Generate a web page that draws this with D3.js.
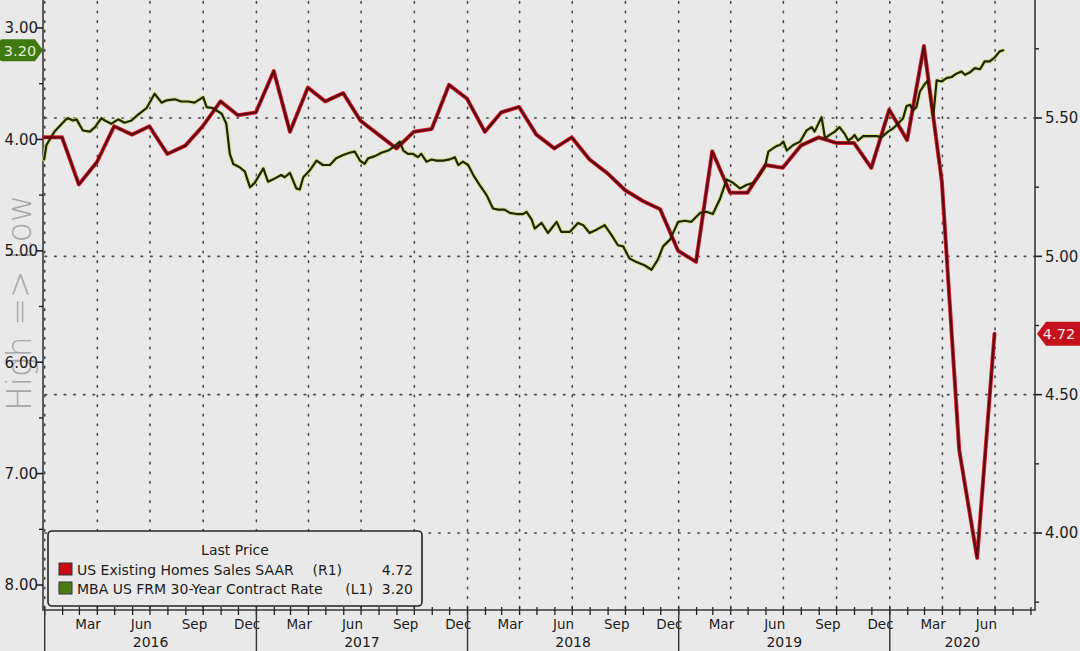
<!DOCTYPE html>
<html><head><meta charset="utf-8">
<script src="https://cdn.jsdelivr.net/npm/d3@7"></script>
<style>html,body{margin:0;padding:0;background:#e9e9e9;} svg{display:block;}</style>
</head><body><svg id="c" width="1080" height="651"></svg>
<script>
// ---------- DATA ----------
const homeSalesDates = [
"2015-12-31","2016-01-31","2016-02-29","2016-03-31","2016-04-30","2016-05-31","2016-06-30","2016-07-31","2016-08-31","2016-09-30","2016-10-31","2016-11-30","2016-12-31",
"2017-01-31","2017-02-28","2017-03-31","2017-04-30","2017-05-31","2017-06-30","2017-07-31","2017-08-31","2017-09-30","2017-10-31","2017-11-30","2017-12-31",
"2018-01-31","2018-02-28","2018-03-31","2018-04-30","2018-05-31","2018-06-30","2018-07-31","2018-08-31","2018-09-30","2018-10-31","2018-11-30","2018-12-31",
"2019-01-31","2019-02-28","2019-03-31","2019-04-30","2019-05-31","2019-06-30","2019-07-31","2019-08-31","2019-09-30","2019-10-31","2019-11-30","2019-12-31",
"2020-01-31","2020-02-29","2020-03-31","2020-04-30","2020-05-31","2020-06-30"];
const homeSalesValues = [
5.43,5.43,5.26,5.34,5.47,5.44,5.47,5.37,5.40,5.47,5.56,5.51,5.52,
5.67,5.45,5.61,5.56,5.59,5.49,5.44,5.39,5.45,5.46,5.62,5.57,
5.45,5.52,5.54,5.44,5.39,5.43,5.35,5.30,5.24,5.20,5.17,5.02,
4.98,5.38,5.23,5.23,5.33,5.32,5.40,5.43,5.41,5.41,5.32,5.53,
5.42,5.76,5.27,4.30,3.91,4.72];

const mortgageDates = [
"2015-12-31","2016-01-04","2016-01-18","2016-02-05","2016-02-10","2016-02-19","2016-02-25","2016-03-07","2016-03-19","2016-03-28",
"2016-04-08","2016-04-14","2016-04-25","2016-05-07","2016-05-18","2016-05-30","2016-06-10","2016-06-25","2016-07-09","2016-07-21",
"2016-07-29","2016-08-13","2016-08-24","2016-09-05","2016-09-16","2016-10-01","2016-10-07","2016-10-18","2016-11-02","2016-11-10",
"2016-11-16","2016-11-22","2016-12-03","2016-12-12","2016-12-21","2016-12-29","2017-01-13","2017-01-21","2017-02-02","2017-02-13",
"2017-02-19","2017-02-28","2017-03-11","2017-03-17","2017-03-23","2017-04-03","2017-04-15","2017-04-26","2017-05-08","2017-05-19",
"2017-05-31","2017-06-11","2017-06-20","2017-06-29","2017-07-07","2017-07-13","2017-07-25","2017-08-05","2017-08-17","2017-08-28",
"2017-09-06","2017-09-12","2017-09-20","2017-09-29","2017-10-07","2017-10-13","2017-10-22","2017-10-31","2017-11-08","2017-11-20",
"2017-12-01","2017-12-10","2017-12-16","2017-12-24","2018-01-02","2018-01-11","2018-01-22","2018-02-03","2018-02-14","2018-02-23",
"2018-03-06","2018-03-15","2018-03-27","2018-04-07","2018-04-13","2018-04-22","2018-04-27","2018-05-09","2018-05-20","2018-06-04",
"2018-06-12","2018-06-27","2018-07-11","2018-07-20","2018-07-31","2018-08-12","2018-08-26","2018-09-07","2018-09-18","2018-09-27",
"2018-10-08","2018-10-20","2018-11-03","2018-11-15","2018-11-26","2018-12-05","2018-12-17","2018-12-31","2019-01-12","2019-01-23",
"2019-02-07","2019-02-18","2019-03-01","2019-03-13","2019-03-25","2019-04-05","2019-04-17","2019-04-28","2019-05-10","2019-05-21",
"2019-05-30","2019-06-05","2019-06-13","2019-06-19","2019-06-25","2019-07-01","2019-07-07","2019-07-18","2019-07-30","2019-08-10",
"2019-08-19","2019-08-24","2019-09-05","2019-09-11","2019-09-19","2019-09-28","2019-10-06","2019-10-15","2019-10-21","2019-10-27",
"2019-11-01","2019-11-07","2019-11-16","2019-11-27","2019-12-09","2019-12-18","2019-12-29","2020-01-07","2020-01-15","2020-01-24",
"2020-01-30","2020-02-05","2020-02-10","2020-02-16","2020-02-22","2020-03-02","2020-03-07","2020-03-16","2020-03-22","2020-03-31",
"2020-04-08","2020-04-17","2020-04-25","2020-05-04","2020-05-10","2020-05-18","2020-05-27","2020-06-05","2020-06-13","2020-06-22",
"2020-07-01","2020-07-09","2020-07-15"];
const mortgageValues = [
4.18,4.05,3.93,3.83,3.81,3.83,3.82,3.92,3.93,3.89,
3.81,3.83,3.86,3.82,3.85,3.83,3.78,3.72,3.59,3.67,
3.65,3.64,3.66,3.66,3.67,3.62,3.71,3.72,3.77,3.86,
4.13,4.22,4.25,4.29,4.43,4.39,4.26,4.38,4.35,4.32,
4.34,4.30,4.44,4.45,4.34,4.28,4.19,4.23,4.23,4.17,
4.14,4.12,4.11,4.19,4.22,4.17,4.15,4.12,4.10,4.06,
4.02,4.10,4.13,4.13,4.16,4.13,4.20,4.18,4.19,4.19,
4.18,4.16,4.23,4.20,4.23,4.32,4.41,4.50,4.62,4.63,
4.63,4.66,4.67,4.67,4.65,4.72,4.80,4.75,4.84,4.74,
4.83,4.83,4.75,4.77,4.84,4.81,4.77,4.86,4.95,4.96,
5.07,5.10,5.13,5.17,5.08,4.96,4.90,4.74,4.73,4.74,
4.66,4.65,4.67,4.54,4.36,4.39,4.44,4.41,4.39,4.32,
4.25,4.11,4.08,4.06,4.05,4.02,4.10,4.05,4.02,3.92,
3.89,3.93,3.80,3.99,3.96,3.93,3.89,3.95,4.01,3.99,
3.96,4.01,3.97,3.97,3.97,3.98,3.93,3.90,3.86,3.81,
3.70,3.69,3.74,3.71,3.57,3.50,3.47,3.80,3.47,3.48,
3.45,3.44,3.41,3.39,3.42,3.40,3.36,3.37,3.30,3.30,
3.26,3.21,3.20];

const leftTicks = [3, 4, 5, 6, 7, 8];
const leftMinorTicks = [3.5, 4.5, 5.5, 6.5, 7.5];
const rightTicks = [4.0, 4.5, 5.0, 5.5];
const rightMinorTicks = [3.75, 4.25, 4.75, 5.25, 5.75];
const monthLabels = ["Mar", "Jun", "Sep", "Dec"];
const yearLabels = ["2016", "2017", "2018", "2019", "2020"];
const legendTitle = "Last Price";
const seriesNames = ["US Existing Homes Sales SAAR", "MBA US FRM 30-Year Contract Rate"];
const seriesAxes = ["(R1)", "(L1)"];
const lastValues = ["4.72", "3.20"];
const sideLabel = "High => Low";

// ---------- SETUP ----------
const svg = d3.select("#c");
const parse = d3.timeParse("%Y-%m-%d");
const L = 43, R = 1035, B = 610, T = 0;
const FONT = "DejaVu Sans, sans-serif";
const ink = "#1c1c1c";

const x = d3.scaleTime().domain([new Date(2016,0,1), new Date(2020,0,1)]).range([44.7, 889.8]);
const xStart = x.invert(L), xEnd = x.invert(R);
const yL = d3.scaleLinear().domain([3, 8]).range([28, 585]);
const yR = d3.scaleLinear().domain([5.5, 4.0]).range([118, 533]);

svg.append("rect").attr("width",1080).attr("height",651).attr("fill","#e9e9e9");

// gridlines
const grid = svg.append("g").attr("stroke","#4a4a4a").attr("stroke-width",1.6)
  .attr("stroke-dasharray","1.6,8").attr("stroke-linecap","round");
const quarterStarts = d3.timeMonth.range(xStart, xEnd).filter(d => d.getMonth() % 3 === 0);
grid.selectAll("line.v").data(quarterStarts).join("line")
  .attr("x1", d => x(d)).attr("x2", d => x(d)).attr("y1", B - 2).attr("y2", T);
grid.selectAll("line.h").data(rightTicks).join("line")
  .attr("x1", L + 2).attr("x2", R).attr("y1", d => yR(d)).attr("y2", d => yR(d));

// "High => Low"
svg.append("text").attr("transform","translate(31,303) rotate(-90)")
  .attr("text-anchor","middle").attr("font-family",FONT).attr("font-weight",300)
  .attr("font-size",33).attr("fill","#a6a6a6").text(sideLabel);

// axes lines
const ax = svg.append("g").attr("stroke","#3a3a3a").attr("stroke-width",1.6).attr("fill","none");
ax.append("path").attr("d", `M${L},${T}V${B}H${R}V${T}`);

// left ticks
svg.append("g").selectAll("line").data(leftTicks).join("line")
  .attr("x1", L - 7).attr("x2", L).attr("y1", d => yL(d)).attr("y2", d => yL(d))
  .attr("stroke","#222").attr("stroke-width",1.6);
svg.append("g").selectAll("line").data(leftMinorTicks).join("line")
  .attr("x1", L - 4).attr("x2", L).attr("y1", d => yL(d)).attr("y2", d => yL(d))
  .attr("stroke","#222").attr("stroke-width",1.4);
svg.append("g").selectAll("text").data(leftTicks).join("text")
  .attr("x", 38).attr("y", d => yL(d)).attr("dy","0.36em").attr("text-anchor","end")
  .attr("font-family",FONT).attr("font-size",15).attr("fill",ink)
  .text(d => d3.format(".2f")(d));

// right ticks
svg.append("g").selectAll("line").data(rightTicks).join("line")
  .attr("x1", R).attr("x2", R + 7).attr("y1", d => yR(d)).attr("y2", d => yR(d))
  .attr("stroke","#222").attr("stroke-width",1.6);
svg.append("g").selectAll("line").data(rightMinorTicks).join("line")
  .attr("x1", R).attr("x2", R + 4).attr("y1", d => yR(d)).attr("y2", d => yR(d))
  .attr("stroke","#222").attr("stroke-width",1.4);
svg.append("g").selectAll("text").data(rightTicks).join("text")
  .attr("x", 1045).attr("y", d => yR(d)).attr("dy","0.36em").attr("text-anchor","start")
  .attr("font-family",FONT).attr("font-size",15).attr("fill",ink)
  .text(d => d3.format(".2f")(d));

// x axis month ticks
const monthStarts = d3.timeMonth.range(xStart, xEnd);
svg.append("g").selectAll("line").data(monthStarts).join("line")
  .attr("x1", d => x(d)).attr("x2", d => x(d)).attr("y1", B - 3).attr("y2", B + 5)
  .attr("stroke","#222").attr("stroke-width",1.3);
const fmtMon = d3.timeFormat("%b");
const labelMonths = monthStarts.filter(d => monthLabels.includes(fmtMon(d))
  && x(d3.timeMonth.offset(d, 1)) <= R);
svg.append("g").selectAll("text").data(labelMonths).join("text")
  .attr("x", d => x(d3.timeDay.offset(d, 15))).attr("y", 629).attr("text-anchor","middle")
  .attr("font-family",FONT).attr("font-size",13.5).attr("fill",ink).text(d => fmtMon(d));
// year separators and labels
const yearStarts = d3.timeYear.range(d3.timeYear.ceil(xStart), xEnd);
svg.append("g").selectAll("line").data(yearStarts).join("line")
  .attr("x1", d => x(d)).attr("x2", d => x(d)).attr("y1", B).attr("y2", 651)
  .attr("stroke","#333").attr("stroke-width",1.4);
svg.append("g").selectAll("text").data(yearLabels).join("text")
  .attr("x", d => {
    const a = Math.max(L, x(new Date(+d,0,1))), b = Math.min(R, x(new Date(+d+1,0,1)));
    return (a + b) / 2; })
  .attr("y", 647).attr("text-anchor","middle")
  .attr("font-family",FONT).attr("font-size",14).attr("fill",ink).text(d => d);

// ---------- LINES ----------
const salesData = homeSalesDates.map((d,i) => ({date: parse(d), v: homeSalesValues[i]}));
const rateData = mortgageDates.map((d,i) => ({date: parse(d), v: mortgageValues[i]}));
const lineR = d3.line().x(d => x(d.date)).y(d => yR(d.v));
const lineL = d3.line().x(d => x(d.date)).y(d => yL(d.v));

const lines = svg.append("g").attr("fill","none").attr("stroke-linejoin","round").attr("stroke-linecap","round");
lines.append("path").datum(rateData).attr("d", lineL).attr("stroke","#d7e27a").attr("stroke-width",4.2).attr("opacity",0.85);
lines.append("path").datum(salesData).attr("d", lineR).attr("stroke","#e0202c").attr("stroke-width",4);
lines.append("path").datum(rateData).attr("d", lineL).attr("stroke","#1c2608").attr("stroke-width",2.2);
lines.append("path").datum(salesData).attr("d", lineR).attr("stroke","#5c0a12").attr("stroke-width",2.3);

// ---------- LEGEND ----------
const lg = svg.append("g");
lg.append("rect").attr("x",48).attr("y",531).attr("width",374).attr("height",75).attr("rx",4)
  .attr("fill","#e9e9e9").attr("stroke","#222").attr("stroke-width",1.6);
lg.append("text").attr("x",235).attr("y",555).attr("text-anchor","middle")
  .attr("font-family",FONT).attr("font-size",14).attr("fill",ink).text(legendTitle);
const swatch = ["#c80a14", "#4b7a12"];
[0,1].forEach(i => {
  const yy = 575 + i * 19;
  lg.append("rect").attr("x",59).attr("y",yy-12).attr("width",13).attr("height",12)
    .attr("fill",swatch[i]).attr("stroke","#333").attr("stroke-width",1);
  lg.append("text").attr("x",77).attr("y",yy).attr("font-family",FONT).attr("font-size",14)
    .attr("fill",ink).text(seriesNames[i]);
  lg.append("text").attr("x", i === 0 ? 342 : 373).attr("y",yy).attr("text-anchor","end")
    .attr("font-family",FONT).attr("font-size",14).attr("fill",ink).text(seriesAxes[i]);
  lg.append("text").attr("x",413).attr("y",yy).attr("text-anchor","end")
    .attr("font-family",FONT).attr("font-size",14).attr("fill",ink).text(lastValues[i]);
});

// ---------- LAST VALUE TAGS ----------
const gy = yL(+lastValues[1]);
svg.append("path").attr("d", `M2,${gy-11}H35L43,${gy}L35,${gy+11}H2Q0,${gy+11} 0,${gy+9}V${gy-9}Q0,${gy-11} 2,${gy-11}Z`)
  .attr("fill","#3e7a10");
svg.append("text").attr("x",20).attr("y",gy).attr("dy","0.36em").attr("text-anchor","middle")
  .attr("font-family",FONT).attr("font-size",14.5).attr("fill","#e4ecd0").text(lastValues[1]);
const ry = yR(+lastValues[0]);
svg.append("path").attr("d", `M1037,${ry}L1046,${ry-12}H1080V${ry+12}H1046Z`).attr("fill","#c4101a");
svg.append("text").attr("x",1059).attr("y",ry).attr("dy","0.36em").attr("text-anchor","middle")
  .attr("font-family",FONT).attr("font-size",14.5).attr("fill","#f4e4e4").text(lastValues[0]);
</script></body></html>
